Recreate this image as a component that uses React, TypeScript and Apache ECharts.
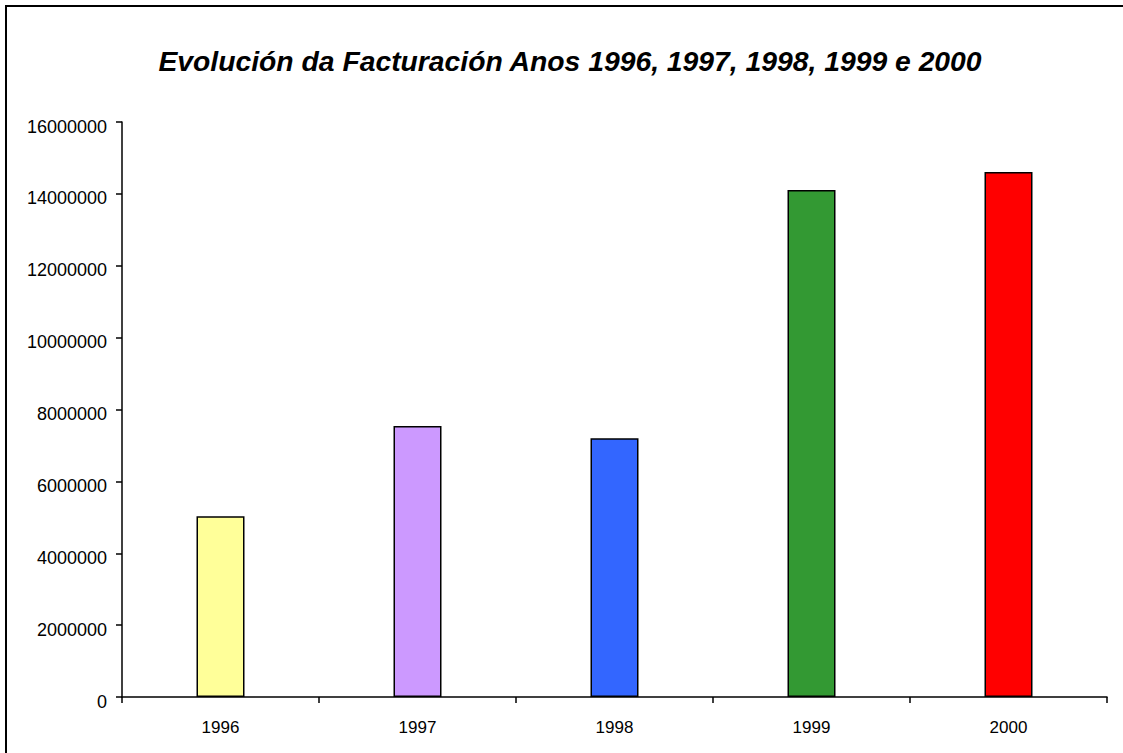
import React, { useEffect, useRef } from "react";
import * as echarts from "echarts";

const categories = ["1996", "1997", "1998", "1999", "2000"];
const values = [5030000, 7540000, 7200000, 14110000, 14610000];
const barColors = ["#FFFF99", "#CC99FF", "#3366FF", "#339933", "#FF0000"];
const titleText = "Evolución da Facturación Anos 1996, 1997, 1998, 1999 e 2000";

export default function App() {
  const ref = useRef<HTMLDivElement>(null);
  useEffect(() => {
    document.body.style.margin = "0";
    const chart = echarts.init(ref.current!, null, { renderer: "svg" });
    chart.setOption({
      animation: false,
      backgroundColor: "#ffffff",
      textStyle: { fontFamily: "Liberation Sans, Arial, sans-serif" },
      graphic: [
        {
          type: "rect",
          shape: { x: 6, y: 6, width: 1300, height: 900 },
          style: { fill: "none", stroke: "#000", lineWidth: 2 },
          silent: true,
        },
        {
          type: "text",
          x: 570,
          y: 61,
          style: {
            text: titleText,
            fontFamily: "Liberation Sans, Arial, sans-serif",
            fontSize: 28.3,
            fontWeight: "bold",
            fontStyle: "italic",
            fill: "#000",
            align: "center",
            verticalAlign: "middle",
          },
        },
      ],
      grid: { left: 122, top: 122, right: 16, bottom: 56, containLabel: false },
      xAxis: {
        type: "category",
        data: categories,
        boundaryGap: true,
        axisLine: { lineStyle: { color: "#000", width: 1.5 } },
        axisTick: { show: true, alignWithLabel: false, length: 6, lineStyle: { color: "#000", width: 1.5 } },
        axisLabel: { color: "#000", fontSize: 17, margin: 22 },
        splitLine: { show: false },
      },
      yAxis: {
        type: "value",
        min: 0,
        max: 16000000,
        interval: 2000000,
        axisLine: { show: true, lineStyle: { color: "#000", width: 1.5 } },
        axisTick: { show: true, length: 6, lineStyle: { color: "#000", width: 1.5 } },
        axisLabel: {
          color: "#000",
          fontSize: 18,
          margin: 15,
          formatter: (v: number) => "{a|" + String(v) + "}",
          rich: { a: { fontSize: 18, color: "#000", padding: [9, 0, 0, 0] } },
        },
        splitLine: { show: false },
      },
      series: [
        {
          type: "bar",
          barWidth: 48,
          data: values.map((v, i) => ({
            value: v,
            itemStyle: { color: barColors[i], borderColor: "#000", borderWidth: 1.5 },
          })),
        },
      ],
    });
    return () => chart.dispose();
  }, []);
  return <div ref={ref} style={{ width: 1123, height: 753 }} />;
}
